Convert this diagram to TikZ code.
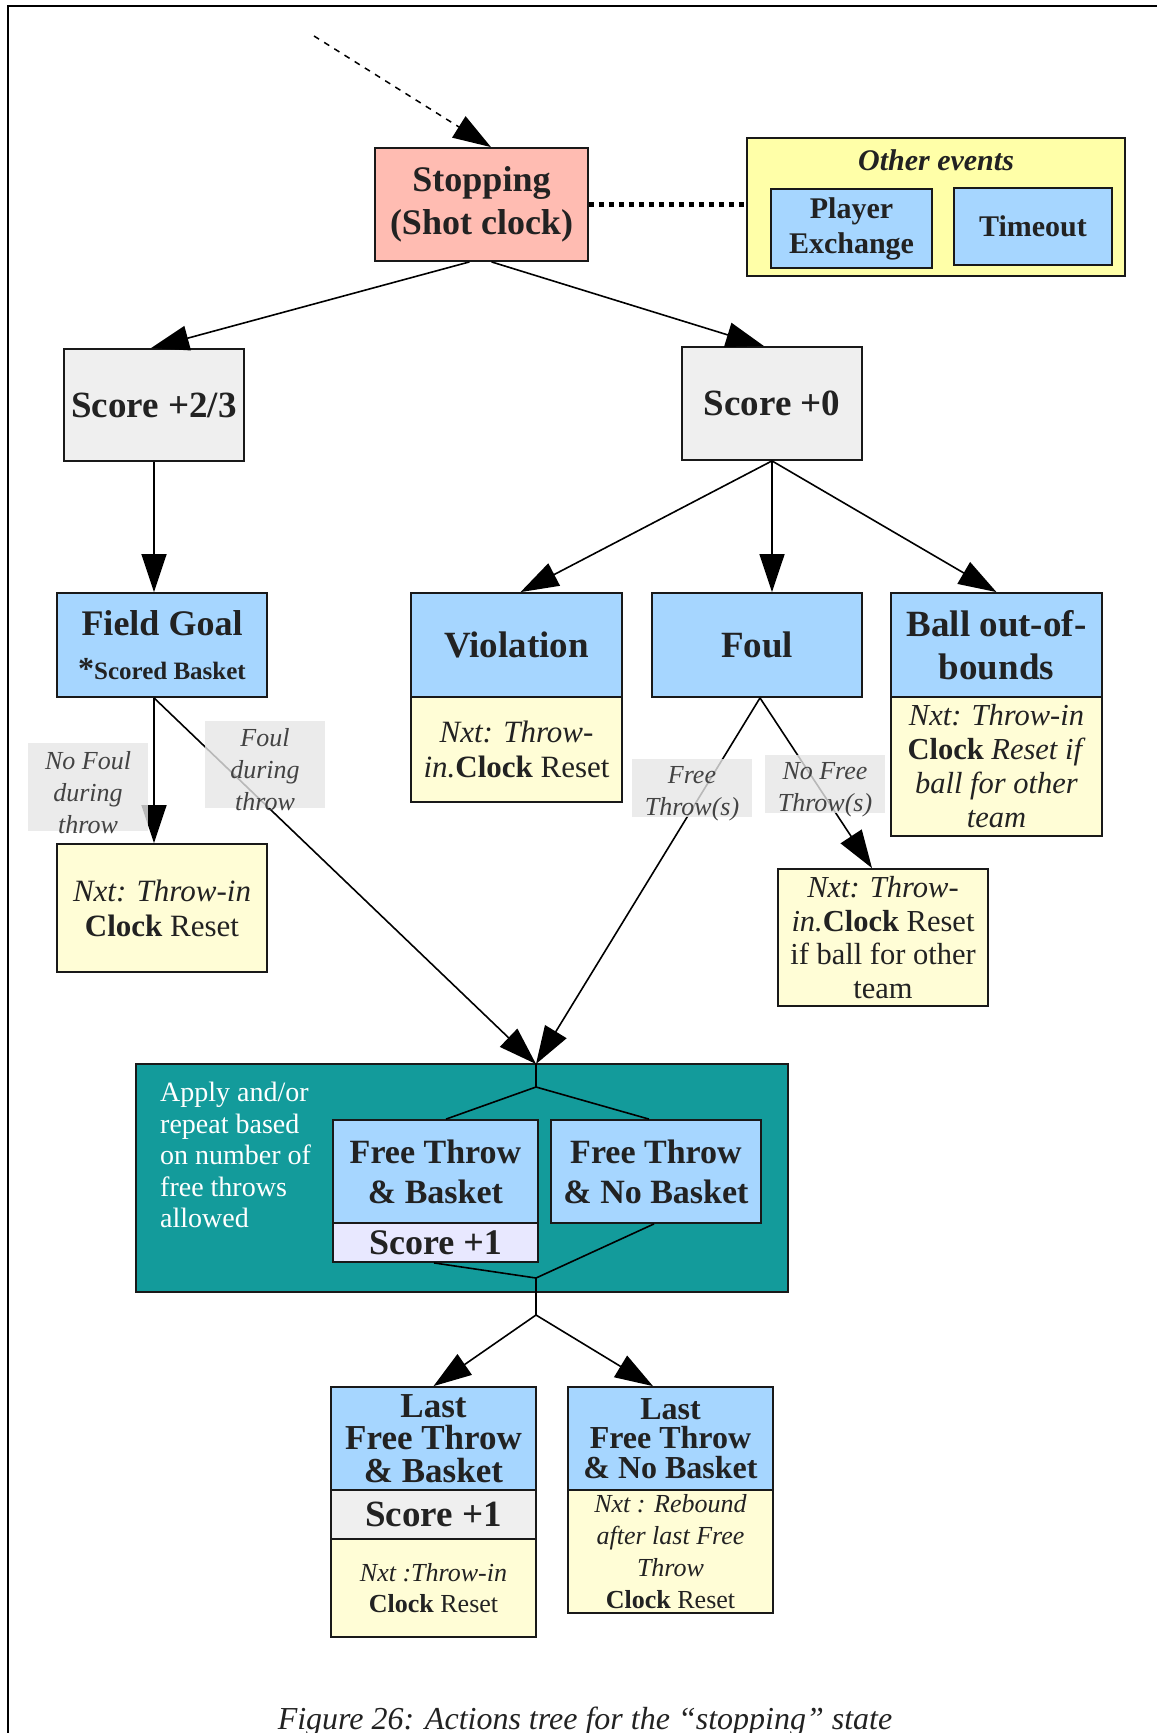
\documentclass[tikz,border=0pt]{standalone}
\usepackage{fontspec}
\setmainfont{Liberation Serif}
\usetikzlibrary{arrows.meta}
\newcommand\myfs[2]{\fontsize{#1}{#2}\selectfont}
\definecolor{txt}{HTML}{222222}
\definecolor{stopfill}{HTML}{FFBCB2}
\definecolor{otherfill}{HTML}{FFFFA8}
\definecolor{bluefill}{HTML}{A6D6FF}
\definecolor{grayfill}{HTML}{EFEFEF}
\definecolor{yelfill}{HTML}{FFFDD6}
\definecolor{tealfill}{HTML}{139B9B}
\definecolor{lavfill}{HTML}{E8E8FF}
\definecolor{labfill}{HTML}{E6E6E6}
\begin{document}
\begin{tikzpicture}[x=1pt,y=-1pt,
  box/.style={draw=black!90, line width=1.8pt, inner sep=0pt, align=center, text=txt},
  arr/.style={line width=1.6pt, -{Triangle[length=38pt,width=25pt]}},
  ln/.style={line width=1.6pt},
  labbg/.style={fill=labfill, fill opacity=0.8},
  labtext/.style={inner sep=0pt, align=center, text=txt!85, font=\myfs{26}{32}\itshape},
]
\useasboundingbox (0,0) rectangle (1157,1733);
% frame
\draw[line width=1.5pt] (8,1733) -- (8,6) -- (1157,6);

% top
\node[box, fill=stopfill, minimum width=213pt, minimum height=113pt, font=\myfs{36}{43}\bfseries] (stop) at (481.5,204.5) {Stopping\\(Shot clock)};
\node[box, fill=otherfill, minimum width=378pt, minimum height=138pt] (other) at (936,207) {};
\node[inner sep=0pt, font=\myfs{30}{34}\bfseries\itshape, text=txt] (othert) at (936,160) {Other events};
\node[box, fill=bluefill, minimum width=161pt, minimum height=79pt, font=\myfs{30}{35}\bfseries] (player) at (851.5,228.5) {Player\\Exchange};
\node[box, fill=bluefill, minimum width=158pt, minimum height=77pt, font=\myfs{30}{35}\bfseries] (timeout) at (1033,226.5) {Timeout};
\coordinate (dstart) at (314,36);

% scores
\node[box, fill=grayfill, minimum width=180pt, minimum height=112pt, font=\myfs{37}{42}\bfseries] (s23) at (154,405) {Score +2/3};
\node[box, fill=grayfill, minimum width=180pt, minimum height=113pt, font=\myfs{37}{42}\bfseries] (s0) at (772,403.5) {Score +0};

% level 3
\node[box, fill=bluefill, minimum width=210pt, minimum height=104pt, font=\myfs{36}{44}\bfseries] (fg) at (162,645)
  {Field Goal\\{\myfs{25}{44}\selectfont{\myfs{32}{44}*}Scored Basket}};
\node[box, fill=yelfill, minimum width=210pt, minimum height=128pt, font=\myfs{31}{35}] (fgnxt) at (162,908)
  {\textit{Nxt: Throw-in}\\\textbf{Clock} Reset};

\node[box, fill=bluefill, minimum width=211pt, minimum height=104pt, font=\myfs{37}{43}\bfseries] (viol) at (516.5,645) {Violation};
\node[box, fill=yelfill, minimum width=211pt, minimum height=105pt, font=\myfs{31}{35}] (violnxt) at (516.5,749.5)
  {\textit{Nxt: Throw-}\\\textit{in.}\textbf{Clock} Reset};

\node[box, fill=bluefill, minimum width=210pt, minimum height=104pt, font=\myfs{37}{43}\bfseries] (foul) at (757,645) {Foul};
\node[box, fill=yelfill, minimum width=210pt, minimum height=137pt, font=\myfs{30.5}{33.5}] (foulnxt) at (883,937.5)
  {\textit{Nxt: Throw-}\\\textit{in.}\textbf{Clock} Reset\\if ball for other\\team};

\node[box, fill=bluefill, minimum width=211pt, minimum height=104pt, font=\myfs{37}{43}\bfseries] (ball) at (996.5,645) {Ball out-of-\\bounds};
\node[box, fill=yelfill, minimum width=211pt, minimum height=139pt, font=\myfs{30.5}{34}] (ballnxt) at (996.5,766.5)
  {\textit{Nxt: Throw-in}\\\textbf{Clock} \textit{Reset if}\\\textit{ball for other}\\\textit{team}};

% teal group
\node[box, fill=tealfill, minimum width=652pt, minimum height=228pt] (teal) at (462,1178) {};
\node[inner sep=0pt, anchor=north west, align=left, text=white, font=\myfs{28}{31.5}] (apply) at (160,1082)
  {Apply and/or\\repeat based\\on number of\\free throws\\allowed};
\node[box, fill=bluefill, minimum width=205pt, minimum height=103pt, font=\myfs{34}{40}\bfseries] (ftb) at (435.5,1171.5) {Free Throw\\\& Basket};
\node[box, fill=lavfill, minimum width=205pt, minimum height=39pt, font=\myfs{36}{40}\bfseries] (ftbs) at (435.5,1242.5) {Score +1};
\node[box, fill=bluefill, minimum width=210pt, minimum height=103pt, font=\myfs{34}{40}\bfseries] (ftnb) at (656,1171.5) {Free Throw\\\& No Basket};
\coordinate (tin) at (536,1064);
\coordinate (j1) at (536,1087);
\coordinate (j2) at (536,1278);
\coordinate (j3) at (536,1315);

% last level
\node[box, fill=bluefill, minimum width=205pt, minimum height=103pt, font=\myfs{35}{32.5}\bfseries] (lftb) at (433.5,1438.5) {Last\\Free Throw\\\& Basket};
\node[box, fill=grayfill, minimum width=205pt, minimum height=49pt, font=\myfs{37}{40}\bfseries] (lftbs) at (433.5,1514.5) {Score +1};
\node[box, fill=yelfill, minimum width=205pt, minimum height=98pt, font=\myfs{26}{31}] (lftbn) at (433.5,1588) {\textit{Nxt :Throw-in}\\\textbf{Clock} Reset};
\node[box, fill=bluefill, minimum width=205pt, minimum height=103pt, font=\myfs{32}{29.5}\bfseries] (lftnb) at (670.5,1438.5) {Last\\Free Throw\\\& No Basket};
\node[box, fill=yelfill, minimum width=205pt, minimum height=123pt, font=\myfs{26}{32}] (lftnbn) at (670.5,1551.5)
  {\textit{Nxt : Rebound}\\\textit{after last Free}\\\textit{Throw}\\\textbf{Clock} Reset};

% connectors
\draw[line width=1.5pt, dash pattern=on 6pt off 6pt, -{Triangle[length=38pt,width=25pt]}] (dstart) -- ([xshift=9.5pt]stop.north);
\draw[line width=5pt, dash pattern=on 5pt off 5pt] (stop.east) -- (stop.east -| other.west);
\draw[arr] ([xshift=-12pt]stop.south) -- ([xshift=-3pt]s23.north);
\draw[arr] ([xshift=10pt]stop.south) -- ([xshift=-8pt]s0.north);
\draw[arr] (s23.south) -- (s23.south |- fg.north);
\draw[arr] (s0.south) -- ([xshift=4pt]viol.north);
\draw[arr] (s0.south) -- (s0.south |- foul.north);
\draw[arr] (s0.south) -- (ball.north);
\draw[arr] (s23.south |- fg.south) -- (s23.south |- fgnxt.north);
\draw[arr] (s23.south |- fg.south) -- (tin);
\draw[arr] ([xshift=3pt]foul.south) -- (tin);
\draw[arr] ([xshift=3pt]foul.south) -- ([xshift=-11pt]foulnxt.north);
\draw[ln] (tin) -- (j1) -- ([xshift=10.5pt]ftb.north);
\draw[ln] (j1) -- ([xshift=-7pt]ftnb.north);
\draw[ln] ([xshift=-1.5pt]ftbs.south) -- (j2) -- ([xshift=-2pt]ftnb.south);
\draw[ln] (j2) -- (j3);
\draw[arr] (j3) -- (lftb.north);
\draw[arr] (j3) -- ([xshift=-17.5pt]lftnb.north);

% edge labels (grey backing panels, then text)
\fill[labbg] (28,743) rectangle (148,831);
\fill[labbg] (205,721) rectangle (325,808);
\fill[labbg] (632,759) rectangle (752,817);
\fill[labbg] (765,755) rectangle (885,813);
\node[labtext] (lab1) at (88,792.5) {No Foul\\during\\throw};
\node[labtext] (lab2) at (265,769.5) {Foul\\during\\throw};
\node[labtext] (lab3) at (692,793.5) {Free\\Throw(s)};
\node[labtext] (lab4) at (825,790) {No Free\\Throw(s)};

% caption
\node[inner sep=0pt, anchor=base, font=\myfs{32}{36}\itshape, text=txt] (cap) at (585,1729)
  {Figure 26: Actions tree for the “stopping” state};
\end{tikzpicture}
\end{document}
